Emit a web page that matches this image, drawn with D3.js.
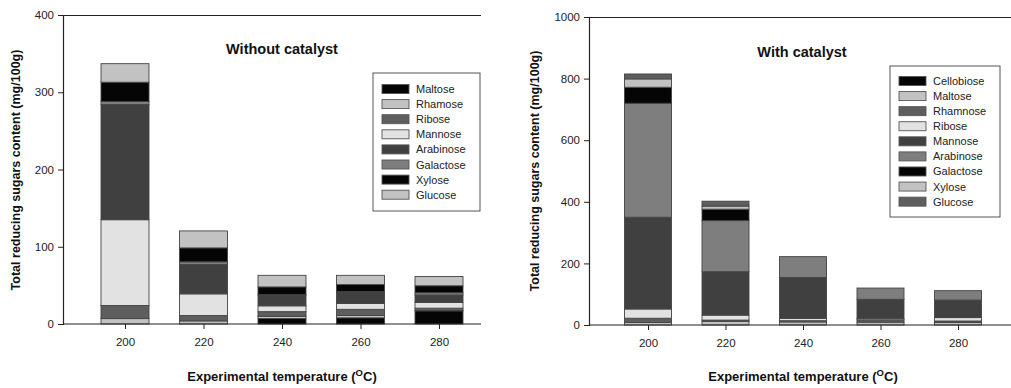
<!DOCTYPE html>
<html>
<head>
<meta charset="utf-8">
<script src="https://cdn.jsdelivr.net/npm/d3@7"></script>
<style>
  html, body { margin: 0; padding: 0; background: #fff; }
  svg { display: block; font-family: "Liberation Sans", Arial, sans-serif; }
</style>
</head>
<body>
<svg id="chart" width="1011" height="388"></svg>
<script>
// ---------- DATA ----------
const temperatures = ["200", "220", "240", "260", "280"];

// Left panel: Without catalyst (stack order bottom -> top = legend order top -> bottom)
const leftSugars = ["Maltose", "Rhamose", "Ribose", "Mannose", "Arabinose", "Galactose", "Xylose", "Glucose"];
const leftColors = ["#050505", "#c2c2c2", "#5e5e5e", "#e2e2e2", "#404040", "#7e7e7e", "#050505", "#c2c2c2"];
const leftMaltose   = [0, 0, 7, 8, 17];
const leftRhamose   = [7, 4, 3, 3, 0.5];
const leftRibose    = [17, 7, 6, 8, 3];
const leftMannose   = [111, 28, 7.5, 7.5, 7.5];
const leftArabinose = [149, 38, 14, 15, 9.5];
const leftGalactose = [4, 3.5, 0.5, 0.5, 3];
const leftXylose    = [25, 18, 10, 9, 9];
const leftGlucose   = [24, 22, 15, 12, 12];
const leftYTicks = [0, 100, 200, 300, 400];

// Right panel: With catalyst
const rightSugars = ["Cellobiose", "Maltose", "Rhamnose", "Ribose", "Mannose", "Arabinose", "Galactose", "Xylose", "Glucose"];
const rightColors = ["#050505", "#c2c2c2", "#5e5e5e", "#e2e2e2", "#404040", "#7e7e7e", "#050505", "#c2c2c2", "#5e5e5e"];
const rightCellobiose = [0, 0, 0, 0, 0];
const rightMaltose    = [8, 12, 10, 9, 8];
const rightRhamnose   = [14, 4, 4, 8, 5];
const rightRibose     = [30, 16, 7.5, 4.5, 11];
const rightMannose    = [298, 141, 133, 62, 57];
const rightArabinose  = [370, 166, 67.5, 36.5, 30.5];
const rightGalactose  = [52, 37, 0, 0, 0];
const rightXylose     = [27, 10, 0, 0, 0];
const rightGlucose    = [16, 16, 0, 0, 0];
const rightYTicks = [0, 200, 400, 600, 800, 1000];

const leftValues = [leftMaltose, leftRhamose, leftRibose, leftMannose, leftArabinose, leftGalactose, leftXylose, leftGlucose];
const rightValues = [rightCellobiose, rightMaltose, rightRhamnose, rightRibose, rightMannose, rightArabinose, rightGalactose, rightXylose, rightGlucose];

const yTitle = "Total reducing sugars content (mg/100g)";

// ---------- DRAW ----------
const svg = d3.select("#chart");

function drawPanel(cfg) {
  const g = svg.append("g");
  const rows = temperatures.map((t, i) => {
    const r = { temp: t };
    cfg.sugars.forEach((s, k) => { r[s] = cfg.values[k][i]; });
    return r;
  });
  const series = d3.stack().keys(cfg.sugars)(rows);

  const x = d3.scalePoint().domain(temperatures).range([cfg.firstX, cfg.lastX]);
  const y = d3.scaleLinear().domain([0, cfg.yMax]).range([cfg.bottom, cfg.top]);
  const color = d3.scaleOrdinal().domain(cfg.sugars).range(cfg.colors);

  // bars
  g.selectAll("g.series").data(series).join("g")
    .attr("fill", d => color(d.key))
    .selectAll("rect").data(d => d).join("rect")
    .attr("x", d => x(d.data.temp) - cfg.barW / 2)
    .attr("width", cfg.barW)
    .attr("y", d => y(d[1]))
    .attr("height", d => y(d[0]) - y(d[1]))
    .attr("stroke", "#444")
    .attr("stroke-width", 0.9);

  // frame lines: top and left axis, bottom axis
  g.append("line").attr("x1", cfg.left).attr("x2", cfg.right)
    .attr("y1", cfg.top + 0.5).attr("y2", cfg.top + 0.5)
    .attr("stroke", "#222").attr("stroke-width", 1.2);

  const yAxis = d3.axisLeft(y).tickValues(cfg.yTicks).tickSize(5).tickPadding(4).tickFormat(d3.format("d"));
  const ya = g.append("g").attr("transform", `translate(${cfg.left},0)`).call(yAxis);
  ya.select(".domain").attr("stroke", "#222").attr("stroke-width", 1.2);
  ya.selectAll(".tick line").attr("stroke", "#222");
  ya.selectAll(".tick text").attr("font-size", 11.5).attr("fill", "#222")
    .attr("font-family", "Liberation Sans, Arial, sans-serif");

  const xAxis = d3.axisBottom(x).tickSize(5).tickPadding(9);
  const xa = g.append("g").attr("transform", `translate(0,${cfg.bottom})`).call(xAxis);
  xa.select(".domain").remove();
  xa.append("line").attr("x1", cfg.left).attr("x2", cfg.right).attr("y1", 0).attr("y2", 0)
    .attr("stroke", "#222").attr("stroke-width", 1.2);
  xa.selectAll(".tick line").attr("stroke", "#222");
  xa.selectAll(".tick text").attr("font-size", 11.5).attr("fill", "#222")
    .attr("font-family", "Liberation Sans, Arial, sans-serif");

  // panel title
  g.append("text").attr("x", cfg.titleX).attr("y", cfg.titleY)
    .attr("text-anchor", "middle").attr("font-size", 14.5).attr("font-weight", "bold")
    .attr("fill", "#111").text(cfg.title);

  // y title
  g.append("text")
    .attr("transform", `translate(${cfg.yTitleX},${cfg.yTitleY}) rotate(-90)`)
    .attr("text-anchor", "middle").attr("font-size", 12.5).attr("font-weight", "bold")
    .attr("fill", "#111").text(yTitle);

  // x title with superscript
  const xt = g.append("text").attr("x", cfg.xTitleX).attr("y", 381)
    .attr("text-anchor", "middle").attr("font-size", 13).attr("font-weight", "bold").attr("fill", "#111");
  xt.append("tspan").text("Experimental temperature (");
  xt.append("tspan").attr("dy", -5).attr("font-size", 9.5).text("O");
  xt.append("tspan").attr("dy", 5).text("C)");

  // legend
  const lg = g.append("g");
  lg.append("rect").attr("x", cfg.legX).attr("y", cfg.legY).attr("width", cfg.legW).attr("height", cfg.legH)
    .attr("fill", "#fff").attr("stroke", "#555").attr("stroke-width", 1);
  const items = cfg.sugars.slice();
  const it = lg.selectAll("g.item").data(items).join("g")
    .attr("transform", (d, i) => `translate(${cfg.legX + 9},${cfg.legRow0 + i * cfg.legStep})`);
  it.append("rect").attr("x", 0).attr("y", -4.5).attr("width", 27).attr("height", 9)
    .attr("fill", d => color(d)).attr("stroke", "#555").attr("stroke-width", 0.9);
  it.append("text").attr("x", cfg.legTextDx).attr("y", 4).attr("font-size", 11).attr("fill", "#222").text(d => d);
}

drawPanel({
  sugars: leftSugars, colors: leftColors, values: leftValues, yMax: 400, yTicks: leftYTicks,
  left: 63, right: 481, top: 15, bottom: 324,
  firstX: 125, lastX: 439, barW: 48,
  title: "Without catalyst", titleX: 282, titleY: 54,
  yTitleX: 20, yTitleY: 170, xTitleX: 282,
  legX: 373, legY: 73, legW: 107, legH: 138, legRow0: 89, legStep: 15.1, legTextDx: 34
});

drawPanel({
  sugars: rightSugars, colors: rightColors, values: rightValues, yMax: 1000, yTicks: rightYTicks,
  left: 589, right: 1011, top: 17, bottom: 325,
  firstX: 648, lastX: 958, barW: 47,
  title: "With catalyst", titleX: 802, titleY: 57,
  yTitleX: 539, yTitleY: 171, xTitleX: 803,
  legX: 890, legY: 66, legW: 110, legH: 151, legRow0: 81, legStep: 15.08, legTextDx: 34
});
</script>
</body>
</html>
